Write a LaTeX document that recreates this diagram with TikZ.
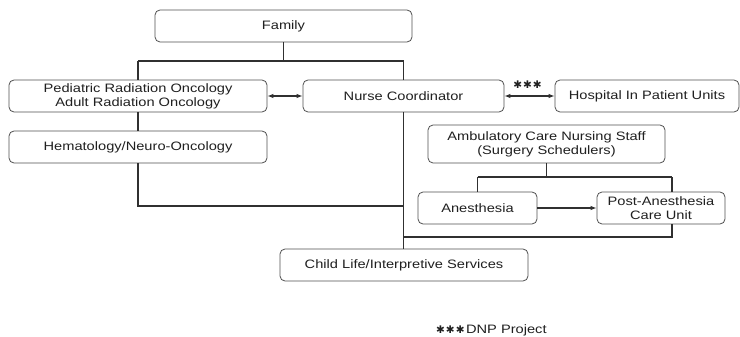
\documentclass[tikz,border=0pt]{standalone}
\usepackage{fontspec}
\setmainfont[FakeStretch=1.2]{Liberation Sans}
\newfontfamily\starfont{DejaVu Sans}
\usetikzlibrary{arrows.meta}
\definecolor{boxline}{HTML}{505050}
\definecolor{conn}{HTML}{303030}
\definecolor{txt}{HTML}{202020}
\tikzset{
  box/.style={draw=boxline, line width=0.8pt, rounded corners=5pt, align=center,
    text=txt, font=\fontsize{12.2}{14}\selectfont, inner sep=0pt},
  link/.style={draw=conn, line width=1.4pt},
  arr/.style={draw=conn, line width=1.1pt, -{Latex[length=6pt,width=4.5pt]}},
  darr/.style={draw=conn, line width=1.1pt, {Latex[length=6pt,width=4.5pt]}-{Latex[length=6pt,width=4.5pt]}},
  note/.style={text=txt, font=\fontsize{12.2}{14}\selectfont, inner sep=0pt}
}
\newcommand{\mystars}{{\starfont\fontsize{10.5}{11}\selectfont ✱\hspace{1pt}✱\hspace{1pt}✱}}
\begin{document}
\begin{tikzpicture}[x=1pt,y=-1pt]
\useasboundingbox[fill=white] (0,0) rectangle (740,337);
\node[box, minimum width=257pt, minimum height=32pt] (family) at (283.5,26) {Family};
\node[box, minimum width=258pt, minimum height=32pt] (ped) at (138,96) {Pediatric Radiation Oncology\\Adult Radiation Oncology};
\node[box, minimum width=258pt, minimum height=32pt] (heme) at (138,147) {Hematology/Neuro-Oncology};
\node[box, minimum width=201pt, minimum height=32pt] (nurse) at (403.5,96) {Nurse Coordinator};
\node[box, minimum width=184pt, minimum height=32pt] (hosp) at (647,96) {Hospital In Patient Units};
\node[box, minimum width=237pt, minimum height=38pt] (amb) at (546.5,144) {Ambulatory Care Nursing Staff\\(Surgery Schedulers)};
\node[box, minimum width=119pt, minimum height=32pt] (anes) at (477.5,208) {Anesthesia};
\node[box, minimum width=128pt, minimum height=32pt] (pacu) at (661,208) {Post-Anesthesia\\Care Unit};
\node[box, minimum width=248pt, minimum height=32pt] (child) at (404,265) {Child Life/Interpretive Services};
\node[note] (stars) at (527.5,84.5) {\mystars};
\node[note, anchor=base west] (dnp) at (436,333) {\mystars\hspace{1.5pt}DNP Project};

\coordinate (fj) at (283.5,61);
\coordinate (fl) at (138,61);
\coordinate (fr) at (403.5,61);
\coordinate (hl) at (138,206);
\coordinate (hr) at (403.5,206);
\coordinate (aj) at (546.5,177);
\coordinate (al) at (477.5,177);
\coordinate (ar) at (672,177);
\coordinate (pt) at (672,192);
\coordinate (pb) at (672,224);
\coordinate (pl) at (672,237);
\coordinate (cl) at (403.5,237);

\draw[link] (family.south) -- (fj);
\draw[link] (fl) -- (fr);
\draw[link] (fl) -- (ped.north);
\draw[link] (fr) -- (nurse.north);
\draw[link] (ped.south) -- (heme.north);
\draw[link] (heme.south) -- (hl) -- (hr);
\draw[link] (nurse.south) -- (nurse.south |- child.north);
\draw[link] (amb.south) -- (aj);
\draw[link] (al) -- (ar);
\draw[link] (al) -- (anes.north);
\draw[link] (ar) -- (pt);
\draw[link] (pb) -- (pl) -- (cl);
\draw[darr] (ped.east) -- (nurse.west);
\draw[darr] (nurse.east) -- (hosp.west);
\draw[arr] (anes.east) -- (pacu.west);
\end{tikzpicture}
\end{document}
